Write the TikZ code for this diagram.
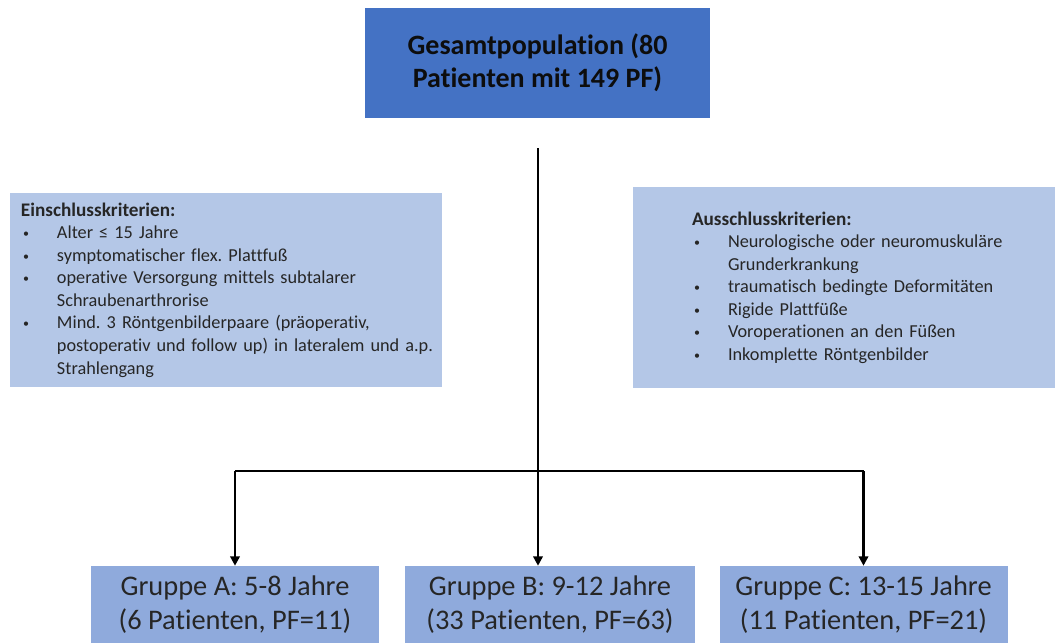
\documentclass[tikz,border=0pt]{standalone}
\usepackage{fontspec}
\setmainfont{Carlito}[Ligatures=CommonOff]
\usetikzlibrary{positioning, arrows.meta}

\definecolor{topblue}{HTML}{4472C4}
\definecolor{critblue}{HTML}{B4C7E7}
\definecolor{groupblue}{HTML}{8FAADC}

\newcommand\krit[1]{\par\hangindent=27pt\hangafter=1\noindent\makebox[27pt][l]{\hspace{1.5pt}\raisebox{0.8pt}{\fontsize{9}{9}\selectfont\textbullet}}#1\par}
\newcommand\kopf[1]{\noindent{\fontsize{14.4}{16.9}\selectfont\bfseries #1}\par}

\tikzset{
    critbox/.style={fill=critblue, inner sep=0pt, align=left, font=\fontsize{13.7}{16.9}\selectfont\frenchspacing, text=black!85},
    groupbox/.style={fill=groupblue, inner sep=0pt, minimum width=216pt, minimum height=57.75pt, align=center, font=\fontsize{21.3}{26}\selectfont, text=black!85},
    flow/.style={line width=2.2pt, -{Triangle[length=7pt, width=7pt]}}
}

\begin{document}
\begin{tikzpicture}[x=0.75pt, y=-0.75pt]
    \useasboundingbox (0,0) rectangle (1056,643);
    \node[fill=topblue, minimum width=258.75pt, minimum height=82.5pt, align=center, font=\fontsize{21}{25}\selectfont\bfseries, text=black!95] (gesamt) at (537.5,63) {Gesamtpopulation (80\\Patienten mit 149 PF)};
    \node[critbox, minimum height=145.5pt, text width=324pt] (einschluss) at (226,290) {%
        \leftskip=8.25pt
        \kopf{Einschlusskriterien:}
        \krit{Alter ≤ 15 Jahre}
        \krit{symptomatischer flex. Plattfuß}
        \krit{\mbox{operative Versorgung mittels subtalarer}\newline Schraubenarthrorise}
        \krit{\mbox{Mind. 3 Röntgenbilderpaare (präoperativ,}\newline\mbox{postoperativ und follow up) in lateralem und a.p.}\newline Strahlengang}};
    \node[critbox, minimum height=150.75pt, text width=316.5pt] (ausschluss) at (844,287.5) {%
        \leftskip=44.25pt
        \kopf{Ausschlusskriterien:}
        \krit{\mbox{Neurologische oder neuromuskuläre}\newline Grunderkrankung}
        \krit{traumatisch bedingte Deformitäten}
        \krit{Rigide Plattfüße}
        \krit{Voroperationen an den Füßen}
        \krit{Inkomplette Röntgenbilder}};
    \node[groupbox] (gruppeA) at (235,604.5) {Gruppe A: 5-8 Jahre\\(6 Patienten, PF=11)};
    \node[groupbox, minimum width=217.5pt] (gruppeB) at (550,604.5) {Gruppe B: 9-12 Jahre\\(33 Patienten, PF=63)};
    \node[groupbox] (gruppeC) at (863.5,604.5) {Gruppe C: 13-15 Jahre\\(11 Patienten, PF=21)};
    \coordinate (start) at (538,148);
    \coordinate (split) at (538,471);
    \draw[flow] (start) -- (start |- gruppeB.north);
    \draw[line width=2.2pt] (gruppeA.north |- split) -- (gruppeC.north |- split);
    \draw[flow] (gruppeA.north |- split) -- (gruppeA.north);
    \draw[flow] (gruppeC.north |- split) -- (gruppeC.north);
\end{tikzpicture}
\end{document}
